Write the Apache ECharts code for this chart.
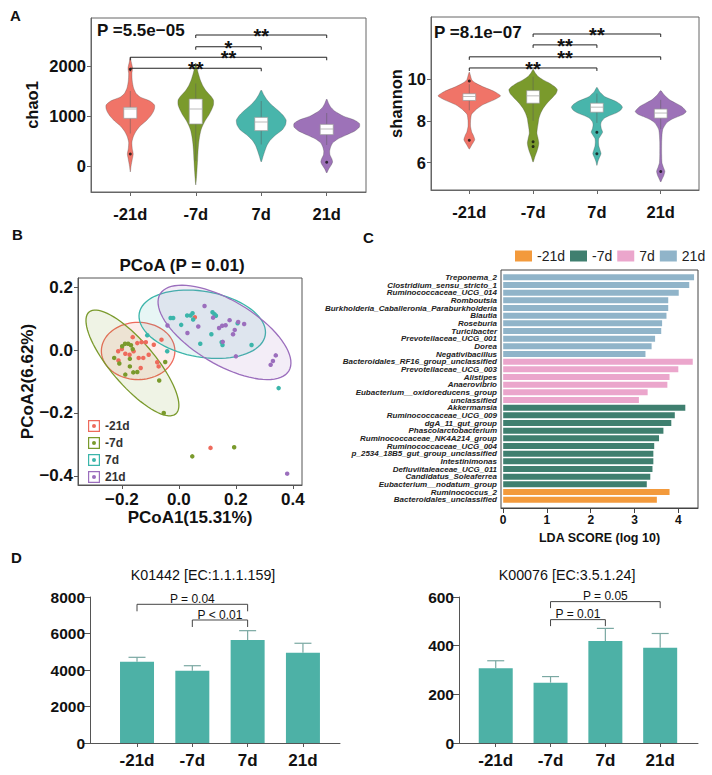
<!DOCTYPE html>
<html>
<head>
<meta charset="utf-8">
<title>Microbiota panels</title>
<script src="https://cdn.jsdelivr.net/npm/echarts@6.0.0/dist/echarts.min.js"></script>
<style>
  html, body { margin: 0; padding: 0; background: #fff; }
  #chart { width: 712px; height: 775px; }
</style>
</head>
<body>
<div id="chart"></div>
<script>
const groups = ['-21d', '-7d', '7d', '21d']
const violinColors = ['#f07468', '#7a9a2c', '#48b5ab', '#9d72b8']
const pointColors = ['#ee6a5c', '#7a9a2c', '#3bb5aa', '#9b6ebd']
const ldaColors = ['#f39a3c', '#3f7f6f', '#eba6cc', '#90b4c9']
const barColor = '#4db1a6'
const FONT = '"Liberation Sans", Arial, sans-serif'

// ---- A: violin outlines, [value, half width in category units], top to bottom
const chao1Violins = [
  [[2180,0],[2080,0.015],[1960,0.035],[1850,0.025],[1700,0.03],[1560,0.05],[1450,0.09],[1380,0.15],[1300,0.3],[1220,0.37],[1150,0.37],[1080,0.35],[1000,0.31],[900,0.24],[800,0.15],[700,0.09],[600,0.05],[480,0.025],[350,0.03],[240,0.045],[130,0.03],[0,0.012],[-120,0]],
  [[2060,0],[1950,0.02],[1850,0.04],[1720,0.07],[1600,0.11],[1500,0.16],[1400,0.23],[1320,0.27],[1220,0.27],[1120,0.24],[1020,0.2],[920,0.15],[820,0.11],[720,0.08],[600,0.06],[460,0.045],[300,0.035],[120,0.028],[-100,0.018],[-250,0.01],[-380,0]],
  [[1520,0],[1420,0.04],[1320,0.09],[1220,0.16],[1120,0.25],[1020,0.33],[920,0.38],[820,0.37],[720,0.32],[620,0.22],[520,0.14],[420,0.09],[320,0.06],[200,0.03],[80,0]],
  [[1340,0],[1250,0.03],[1180,0.06],[1100,0.12],[1000,0.25],[920,0.42],[850,0.5],[780,0.5],[700,0.43],[620,0.3],[540,0.17],[460,0.09],[380,0.06],[300,0.045],[220,0.05],[140,0.08],[80,0.09],[20,0.07],[-60,0.03],[-140,0]]
]
// [lower whisker, q1, median, q3, upper whisker]
const chao1Boxes = [[650, 953, 1140, 1173, 1500], [100, 840, 1140, 1340, 1650], [430, 707, 880, 973, 1300], [420, 627, 740, 833, 1060]]
const chao1Outliers = [[1, 1935], [1, 240], [4, 75]]
// [from group, to group, bracket height, label]
const chao1Pairs = [[1, 3, 1955, '**'], [1, 4, 2175, '**'], [2, 3, 2385, '*'], [2, 4, 2620, '**']]

const shannonViolins = [
  [[10.33,0],[10.15,0.02],[9.95,0.04],[9.8,0.1],[9.63,0.21],[9.4,0.39],[9.19,0.49],[9.0,0.39],[8.76,0.21],[8.52,0.1],[8.3,0.035],[8.0,0.02],[7.73,0.02],[7.45,0.04],[7.3,0.065],[7.1,0.085],[6.95,0.06],[6.8,0.03],[6.65,0]],
  [[10.46,0],[10.3,0.03],[10.11,0.08],[9.95,0.16],[9.79,0.26],[9.6,0.35],[9.48,0.38],[9.3,0.36],[9.16,0.32],[9.0,0.27],[8.84,0.22],[8.6,0.16],[8.37,0.12],[8.1,0.09],[7.89,0.08],[7.6,0.065],[7.41,0.06],[7.2,0.075],[6.94,0.09],[6.75,0.08],[6.54,0.06],[6.3,0.03],[6.03,0]],
  [[9.6,0],[9.4,0.04],[9.16,0.12],[9.05,0.2],[8.92,0.3],[8.78,0.37],[8.65,0.4],[8.5,0.37],[8.37,0.3],[8.25,0.2],[8.13,0.12],[7.95,0.07],[7.81,0.06],[7.62,0.07],[7.46,0.09],[7.3,0.06],[7.15,0.03],[7.0,0.025],[6.8,0.03],[6.6,0.05],[6.43,0.065],[6.25,0.04],[6.05,0.015],[5.87,0]],
  [[9.44,0],[9.25,0.05],[9.0,0.14],[8.85,0.23],[8.68,0.33],[8.44,0.4],[8.3,0.35],[8.2,0.27],[8.05,0.16],[7.89,0.09],[7.7,0.05],[7.57,0.03],[7.3,0.02],[6.95,0.015],[6.4,0.015],[6.0,0.02],[5.8,0.04],[5.59,0.065],[5.4,0.05],[5.2,0.02],[5.08,0]]
]
const shannonBoxes = [[8.5, 8.97, 9.16, 9.29, 9.75], [8.0, 8.84, 9.19, 9.44, 10.1], [7.9, 8.41, 8.65, 8.84, 9.3], [7.6, 8.13, 8.37, 8.56, 9.0]]
const shannonOutliers = [[1, 9.9], [1, 7.07], [2, 7.0], [2, 6.77], [3, 7.45], [3, 6.43], [4, 5.58]]
const shannonPairs = [[1, 3, 10.52, '**'], [1, 4, 11.05, '**'], [2, 3, 11.62, '**'], [2, 4, 12.14, '**']]

// ---- B: PCoA sample coordinates per group
const pcoaMinus21d = [[-0.162,0.041],[-0.146,0.022],[-0.131,0.025],[-0.116,0.025],[-0.088,0.017],[-0.061,0.033],[-0.2,0.003],[-0.188,-0.012],[-0.173,-0.015],[-0.141,-0.025],[-0.212,-0.033],[-0.159,-0.004],[-0.106,-0.015],[-0.076,-0.039],[-0.071,-0.052],[-0.134,-0.057],[-0.213,-0.004],[-0.125,-0.025],[0.056,0.104],[0.111,-0.311]]
const pcoaMinus7d = [[-0.189,0.02],[-0.178,0.02],[-0.168,0.015],[-0.199,0.012],[-0.162,0.003],[-0.227,-0.025],[-0.209,-0.043],[-0.172,-0.028],[-0.172,-0.052],[-0.16,-0.071],[-0.146,-0.07],[-0.188,-0.078],[-0.069,-0.097],[-0.048,-0.038],[-0.053,-0.2],[0.194,-0.309],[0.047,-0.338]]
const pcoa7d = [[-0.111,0.047],[-0.041,-0.004],[-0.029,0.102],[-0.02,0.102],[0.008,0.08],[0.029,0.11],[0.041,0.11],[0.048,0.117],[0.05,0.097],[0.075,0.02],[0.114,0.05],[0.118,0.12],[0.125,0.114],[0.13,0.109],[0.15,0.025],[0.153,0.016],[0.206,0.085],[0.255,0.016],[0.35,-0.121]]
const pcoa21d = [[-0.04,0.078],[0.03,0.054],[0.068,0.075],[0.09,0.14],[0.12,0.103],[0.141,0.07],[0.152,0.077],[0.154,0.026],[0.164,0.079],[0.178,0.095],[0.19,0.05],[0.196,0.064],[0.208,0.089],[0.229,0.083],[0.2,-0.02],[0.322,-0.047],[0.33,-0.035],[0.34,-0.017],[0.38,-0.393]]
// group ellipses: [centre x, centre y, major vector x, y, minor vector x, y]
const pcoaEllipses = [
  [-0.143, -0.003, 0.129, 0, 0, 0.091],
  [-0.163, -0.041, 0.152, -0.162, -0.059, -0.045],
  [0.082, 0.082, 0.221, -0.035, -0.02, -0.103],
  [0.16, 0.056, 0.226, -0.122, -0.0575, -0.0873]
]

// ---- C: LEfSe LDA scores, top to bottom
const ldaTaxa = ['Treponema_2', 'Clostridium_sensu_stricto_1', 'Ruminococcaceae_UCG_014', 'Romboutsia', 'Burkholderia_Caballeronia_Paraburkholderia', 'Blautia', 'Roseburia', 'Turicibacter', 'Prevotellaceae_UCG_001', 'Dorea', 'Negativibacillus', 'Bacteroidales_RF16_group_unclassified', 'Prevotellaceae_UCG_003', 'Alistipes', 'Anaerovibrio', 'Eubacterium__oxidoreducens_group', 'unclassified', 'Akkermansia', 'Ruminococcaceae_UCG_009', 'dgA_11_gut_group', 'Phascolarctobacterium', 'Ruminococcaceae_NK4A214_group', 'Ruminococcaceae_UCG_004', 'p_2534_18B5_gut_group_unclassified', 'Intestinimonas', 'Defluviitaleaceae_UCG_011', 'Candidatus_Soleaferrea', 'Eubacterium__nodatum_group', 'Ruminococcus_2', 'Bacteroidales_unclassified']
const ldaScores = [4.36, 4.25, 4.01, 3.77, 3.77, 3.73, 3.63, 3.61, 3.47, 3.39, 3.25, 4.33, 4.0, 3.8, 3.75, 3.3, 3.1, 4.16, 3.92, 3.84, 3.66, 3.56, 3.45, 3.43, 3.43, 3.41, 3.36, 3.28, 3.8, 3.51]
const ldaGroup = [3,3,3,3,3,3,3,3,3,3,3, 2,2,2,2,2,2, 1,1,1,1,1,1,1,1,1,1,1, 0,0]

// ---- D: KEGG enzyme abundance, mean and SEM
const k01442Mean = [4455, 3960, 5645, 4950]
const k01442Sem = [240, 275, 510, 515]
const k01442Pairs = [[1, 3, 7600, 'P = 0.04'], [2, 3, 6740, 'P < 0.01']]
const k00076Mean = [307, 248, 419, 391]
const k00076Sem = [31, 25, 52, 59]
const k00076Pairs = [[2, 4, 581, 'P = 0.05'], [2, 3, 507, 'P = 0.01']]

function rgba(hex, a) {
  const n = parseInt(hex.slice(1), 16)
  return `rgba(${n >> 16},${(n >> 8) & 255},${n & 255},${a})`
}
const groupLabel = v => groups[Math.round(v) - 1]
const plainFmt = v => String(Math.round(v * 1000) / 1000)
const minusFmt = v => Math.abs(v) < 1e-9 ? '0.0' : (v < 0 ? '\u2212' : '') + Math.abs(v).toFixed(1)

function textEl(x, y, text, size, weight, align) {
  return {
    type: 'text', x, y, silent: true,
    style: { text, fill: '#111', font: `${weight} ${size}px ${FONT}`, align, textAlign: align, verticalAlign: 'middle', textVerticalAlign: 'middle' }
  }
}

function xGroupAxis(gridIndex, min, max, fontSize, color, margin) {
  return {
    type: 'value', gridIndex, min, max,
    axisLine: { show: true, onZero: false, lineStyle: { color, width: 1 } },
    axisTick: { show: true, customValues: [1, 2, 3, 4], length: 4, lineStyle: { color } },
    axisLabel: { customValues: [1, 2, 3, 4], formatter: groupLabel, fontFamily: FONT, fontSize, fontWeight: 'bold', color: '#111', margin },
    splitLine: { show: false }
  }
}

function yValueAxis(gridIndex, min, max, ticks, fontSize, color, extra) {
  return Object.assign({
    type: 'value', gridIndex, min, max,
    axisLine: { show: true, onZero: false, lineStyle: { color, width: 1 } },
    axisTick: { show: true, customValues: ticks, length: 4, lineStyle: { color } },
    axisLabel: { customValues: ticks, formatter: plainFmt, fontFamily: FONT, fontSize, fontWeight: 'bold', color: '#111', margin: 5 },
    splitLine: { show: false },
    nameMoveOverlap: false
  }, extra || {})
}

function violinSeries(axisIndex, profiles, boxes) {
  return {
    type: 'custom', name: 'violin' + axisIndex, xAxisIndex: axisIndex, yAxisIndex: axisIndex, silent: true,
    data: boxes.map((b, i) => [i + 1, b[2]]),
    renderItem: (params, api) => {
      const i = params.dataIndex, cx = i + 1, prof = profiles[i], b = boxes[i]
      const right = prof.map(p => api.coord([cx + p[1], p[0]]))
      const left = prof.slice(1, -1).reverse().map(p => api.coord([cx - p[1], p[0]]))
      const top = api.coord([cx, b[4]]), bottom = api.coord([cx, b[0]])
      const q3 = api.coord([cx - 0.1, b[3]]), q1 = api.coord([cx + 0.1, b[1]])
      const mL = api.coord([cx - 0.1, b[2]]), mR = api.coord([cx + 0.1, b[2]])
      return {
        type: 'group', children: [
          { type: 'polygon', shape: { points: right.concat(left), smooth: 0.2 }, style: { fill: violinColors[i], stroke: 'rgba(70,70,70,0.5)', lineWidth: 0.6 } },
          { type: 'line', shape: { x1: top[0], y1: top[1], x2: bottom[0], y2: bottom[1] }, style: { stroke: 'rgba(90,90,90,0.7)', lineWidth: 0.7 } },
          { type: 'rect', shape: { x: q3[0], y: q3[1], width: q1[0] - q3[0], height: q1[1] - q3[1] }, style: { fill: '#fff', stroke: '#999', lineWidth: 0.7 } },
          { type: 'line', shape: { x1: mL[0], y1: mL[1], x2: mR[0], y2: mR[1] }, style: { stroke: '#aaa', lineWidth: 0.8 } }
        ]
      }
    }
  }
}

function outlierSeries(axisIndex, pts) {
  return { type: 'scatter', name: 'out' + axisIndex, xAxisIndex: axisIndex, yAxisIndex: axisIndex, silent: true, z: 4, data: pts, symbolSize: 3, itemStyle: { color: '#111' } }
}

function bracketSeries(axisIndex, pairs, drop, font, lift, color) {
  return {
    type: 'custom', name: 'pairs' + axisIndex, xAxisIndex: axisIndex, yAxisIndex: axisIndex, silent: true, z: 5,
    data: pairs.map(p => [p[0], p[2]]),
    renderItem: (params, api) => {
      const p = pairs[params.dataIndex]
      const a = api.coord([p[0], p[2]]), b = api.coord([p[1], p[2]])
      return {
        type: 'group', children: [
          { type: 'polyline', shape: { points: [[a[0], a[1] + drop], [a[0], a[1]], [b[0], b[1]], [b[0], b[1] + drop]] }, style: { stroke: color, lineWidth: 1, fill: null } },
          { type: 'text', x: (a[0] + b[0]) / 2, y: a[1] + lift, style: { text: p[3], font, fill: '#111', align: 'center', textAlign: 'center', verticalAlign: 'middle', textVerticalAlign: 'middle' } }
        ]
      }
    }
  }
}

function errorSeries(axisIndex, means, sems) {
  return {
    type: 'custom', name: 'sem' + axisIndex, xAxisIndex: axisIndex, yAxisIndex: axisIndex, silent: true, z: 3,
    data: means.map((m, i) => [i + 1, m, m + sems[i]]),
    renderItem: (params, api) => {
      const lo = api.coord([api.value(0), api.value(1)]), hi = api.coord([api.value(0), api.value(2)])
      return {
        type: 'group', children: [
          { type: 'line', shape: { x1: lo[0], y1: lo[1], x2: hi[0], y2: hi[1] }, style: { stroke: '#7aa8a2', lineWidth: 1.2 } },
          { type: 'line', shape: { x1: hi[0] - 8.5, y1: hi[1], x2: hi[0] + 8.5, y2: hi[1] }, style: { stroke: '#7aa8a2', lineWidth: 1.2 } }
        ]
      }
    }
  }
}

const pcoaGroups = [pcoaMinus21d, pcoaMinus7d, pcoa7d, pcoa21d]
const legendIcon = 'path://M0,0H12V12H0Z M1.2,1.2V10.8H10.8V1.2Z M4,6a2,2 0 1,0 4,0a2,2 0 1,0 -4,0Z'

const chart = echarts.init(document.getElementById('chart'), null, { renderer: 'svg' })

const option = {
  animation: false,
  backgroundColor: '#fff',
  textStyle: { fontFamily: FONT },
  grid: [
    { left: 91, top: 18, width: 275, height: 174, show: true, borderColor: '#666', borderWidth: 1, outerBoundsMode: 'none' },
    { left: 431, top: 17, width: 268, height: 173, show: true, borderColor: '#666', borderWidth: 1, outerBoundsMode: 'none' },
    { left: 78, top: 278, width: 224, height: 207, show: true, borderColor: '#555', borderWidth: 1, outerBoundsMode: 'none' },
    { left: 501, top: 273.5, width: 197, height: 230, outerBoundsMode: 'none' },
    { left: 90, top: 597, width: 250, height: 146, outerBoundsMode: 'none' },
    { left: 459, top: 597, width: 239, height: 146, outerBoundsMode: 'none' }
  ],
  xAxis: [
    xGroupAxis(0, 0.4, 4.6, 16.5, '#666', 13),
    xGroupAxis(1, 0.4, 4.6, 16.5, '#666', 13),
    {
      type: 'value', gridIndex: 2, min: -0.354, max: 0.432,
      axisLine: { show: true, onZero: false, lineStyle: { color: '#555' } },
      axisTick: { show: true, customValues: [-0.2, 0, 0.2, 0.4], length: 4, lineStyle: { color: '#555' } },
      axisLabel: { customValues: [-0.2, 0, 0.2, 0.4], formatter: minusFmt, fontFamily: FONT, fontSize: 17, fontWeight: 'bold', color: '#111', margin: 6 },
      splitLine: { show: false },
      name: 'PCoA1(15.31%)', nameLocation: 'middle', nameGap: 24, nameMoveOverlap: false,
      nameTextStyle: { fontFamily: FONT, fontSize: 17, fontWeight: 'bold', color: '#111' }
    },
    {
      type: 'value', gridIndex: 3, min: -0.05, max: 4.45, offset: 4.5,
      axisLine: { show: true, onZero: false, lineStyle: { color: '#444' } },
      axisTick: { show: true, customValues: [0, 1, 2, 3, 4], length: 5, lineStyle: { color: '#444' } },
      axisLabel: { customValues: [0, 1, 2, 3, 4], fontFamily: FONT, fontSize: 12, fontWeight: 'bold', color: '#111', margin: 6 },
      splitLine: { show: false },
      name: 'LDA SCORE (log 10)', nameLocation: 'middle', nameGap: 23, nameMoveOverlap: false,
      nameTextStyle: { fontFamily: FONT, fontSize: 12.5, fontWeight: 'bold', color: '#111' }
    },
    xGroupAxis(4, 0.15, 4.67, 17, '#555', 9),
    xGroupAxis(5, 0.33, 4.69, 17, '#555', 9)
  ],
  yAxis: [
    yValueAxis(0, -520, 2960, [0, 1000, 2000], 16.5, '#666', {
      name: 'chao1', nameLocation: 'middle', nameGap: 51,
      nameTextStyle: { fontFamily: FONT, fontSize: 16.5, fontWeight: 'bold', color: '#111' }
    }),
    yValueAxis(1, 4.7, 12.95, [6, 8, 10], 16.5, '#666', {
      name: 'shannon', nameLocation: 'middle', nameGap: 27,
      nameTextStyle: { fontFamily: FONT, fontSize: 16.5, fontWeight: 'bold', color: '#111' }
    }),
    yValueAxis(2, -0.429, 0.229, [-0.4, -0.2, 0, 0.2], 17, '#555', {
      axisLabel: { customValues: [-0.4, -0.2, 0, 0.2], formatter: minusFmt, fontFamily: FONT, fontSize: 17, fontWeight: 'bold', color: '#111', margin: 5 },
      name: 'PCoA2(6.62%)', nameLocation: 'middle', nameGap: 42,
      nameTextStyle: { fontFamily: FONT, fontSize: 17, fontWeight: 'bold', color: '#111' }
    }),
    {
      type: 'category', gridIndex: 3, inverse: true, data: ldaTaxa,
      axisLine: { show: false }, axisTick: { show: false },
      axisLabel: { interval: 0, fontFamily: FONT, fontSize: 8, fontStyle: 'italic', fontWeight: 'bold', color: '#222', margin: 4 }
    },
    yValueAxis(4, 0, 8000, [0, 2000, 4000, 6000, 8000], 15.5, '#555', { axisTick: { show: true, customValues: [0, 2000, 4000, 6000, 8000], length: 6, lineStyle: { color: '#555' } } }),
    yValueAxis(5, 0, 600, [0, 200, 400, 600], 15.5, '#555', { axisTick: { show: true, customValues: [0, 200, 400, 600], length: 6, lineStyle: { color: '#555' } } })
  ],
  legend: [
    {
      data: groups, orient: 'vertical', left: 83, top: 415, itemWidth: 12, itemHeight: 12, itemGap: 5,
      icon: legendIcon, selectedMode: false,
      textStyle: { fontFamily: FONT, fontSize: 12, fontWeight: 'bold', color: '#333' }
    },
    {
      data: groups.map(g => 'lda:' + g), orient: 'horizontal', left: 510, top: 244, itemWidth: 17, itemHeight: 11, itemGap: 5,
      icon: 'rect', selectedMode: false, formatter: n => n.slice(4),
      textStyle: { fontFamily: FONT, fontSize: 14, color: '#222' }
    }
  ],
  graphic: {
    elements: [
      textEl(10, 15, 'A', 15, 'bold', 'left'),
      textEl(97, 30, 'P =5.5e\u221205', 17, 'bold', 'left'),
      textEl(434, 32, 'P =8.1e\u221207', 17, 'bold', 'left'),
      textEl(12, 234, 'B', 15, 'bold', 'left'),
      textEl(182, 265, 'PCoA (P = 0.01)', 17, 'bold', 'center'),
      textEl(363, 237, 'C', 15, 'bold', 'left'),
      textEl(11, 557, 'D', 15, 'bold', 'left'),
      textEl(203, 575, 'K01442 [EC:1.1.1.159]', 14.3, 'normal', 'center'),
      textEl(567, 575, 'K00076 [EC:3.5.1.24]', 14.3, 'normal', 'center'),
      { type: 'rect', silent: true, shape: { x: 501, y: 270, width: 197, height: 238 }, style: { fill: 'rgba(0,0,0,0)', stroke: '#444', lineWidth: 1 } }
    ]
  },
  series: [
    violinSeries(0, chao1Violins, chao1Boxes),
    outlierSeries(0, chao1Outliers),
    bracketSeries(0, chao1Pairs, 3, `bold 20px ${FONT}`, 1, '#222'),
    violinSeries(1, shannonViolins, shannonBoxes),
    outlierSeries(1, shannonOutliers),
    bracketSeries(1, shannonPairs, 3, `bold 20px ${FONT}`, 1, '#222'),
    {
      type: 'custom', name: 'ellipses', xAxisIndex: 2, yAxisIndex: 2, silent: true, z: 1,
      data: pcoaEllipses.map(e => [e[0], e[1]]),
      renderItem: (params, api) => {
        const e = pcoaEllipses[params.dataIndex], pts = []
        for (let k = 0; k < 80; k++) {
          const t = k / 80 * Math.PI * 2
          pts.push(api.coord([e[0] + e[2] * Math.cos(t) + e[4] * Math.sin(t), e[1] + e[3] * Math.cos(t) + e[5] * Math.sin(t)]))
        }
        const c = pointColors[params.dataIndex]
        return { type: 'polygon', shape: { points: pts }, style: { fill: rgba(c, 0.12), stroke: c, lineWidth: 1.3 } }
      }
    },
    ...pcoaGroups.map((pts, i) => ({
      type: 'scatter', name: groups[i], xAxisIndex: 2, yAxisIndex: 2, z: 3, silent: true,
      data: pts, symbolSize: 4.5, itemStyle: { color: pointColors[i], opacity: 1 }
    })),
    ...groups.map((g, gi) => ({
      type: 'bar', name: 'lda:' + g, xAxisIndex: 3, yAxisIndex: 3, silent: true,
      barWidth: 6, barGap: '-100%',
      itemStyle: { color: ldaColors[gi] },
      data: ldaScores.map((s, r) => ldaGroup[r] === gi ? s : '-')
    })),
    {
      type: 'bar', name: 'K01442', xAxisIndex: 4, yAxisIndex: 4, silent: true, barWidth: 34,
      itemStyle: { color: barColor }, data: k01442Mean.map((m, i) => [i + 1, m])
    },
    errorSeries(4, k01442Mean, k01442Sem),
    bracketSeries(4, k01442Pairs, 7, `12px ${FONT}`, -5, '#444'),
    {
      type: 'bar', name: 'K00076', xAxisIndex: 5, yAxisIndex: 5, silent: true, barWidth: 34,
      itemStyle: { color: barColor }, data: k00076Mean.map((m, i) => [i + 1, m])
    },
    errorSeries(5, k00076Mean, k00076Sem),
    bracketSeries(5, k00076Pairs, 6.5, `12px ${FONT}`, -5.5, '#444')
  ]
}

chart.setOption(option)
</script>
</body>
</html>
